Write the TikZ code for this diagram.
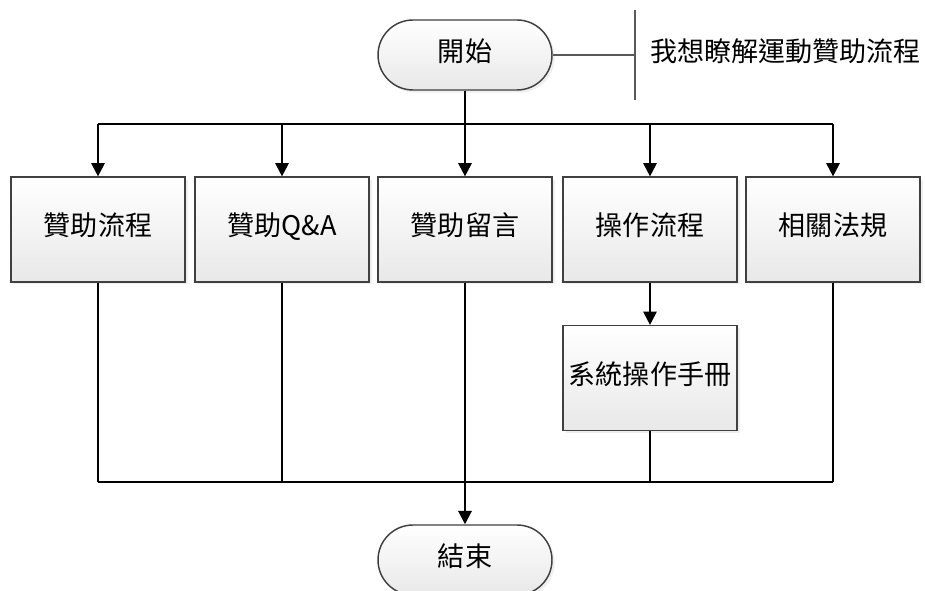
\documentclass[tikz,border=0pt]{standalone}
\usepackage{fontspec}
\setmainfont{Noto Sans CJK TC}
\usetikzlibrary{arrows.meta,shadows,calc}

\begin{document}
\begin{tikzpicture}[
  x=0.75pt, y=-0.75pt,
  every node/.style={font=\fontsize{20.3pt}{24pt}\selectfont,
    text height=1.1em, text depth=0.14em},
  process/.style={rectangle, draw=black!75, line width=1.1pt,
    minimum width=130.5pt, minimum height=78.5pt,
    top color=white, bottom color=black!9,
    drop shadow={shadow xshift=2pt, shadow yshift=-2pt, fill=black!12}},
  terminal/.style={process, minimum height=52.5pt, rounded corners=26.25pt},
  conn/.style={line width=1.5pt, black},
  >={Triangle[length=10pt, width=10pt]}
]
\useasboundingbox (0,0) rectangle (925,591);

% Start and end
\node[terminal] (start) at (465,55) {開始};
\node[terminal] (end) at (465,560) {結束};

% Note at the right
\coordinate (brk) at (635,55);
\draw[black!65, line width=1pt] (start.east) -- (brk);
\draw[black!65, line width=1.3pt] ($(brk)+(0,-45)$) -- ($(brk)+(0,45)$);
\node[anchor=west, inner sep=0pt] (note) at (650,55) {我想瞭解運動贊助流程};

% Main steps
\node[process] (flow) at (98,229.5) {贊助流程};
\node[process] (qa) at (282,229.5) {贊助Q\&A};
\node[process] (msg) at (465,229.5) {贊助留言};
\node[process] (oper) at (650,229.5) {操作流程};
\node[process] (law) at (833,229.5) {相關法規};
\node[process] (manual) at (650,378) {系統操作手冊};

% Split from start
\coordinate (top) at (465,124);
\coordinate (bot) at (465,482);
\draw[conn, ->] (start) -- (msg);
\draw[conn] (flow.north |- top) -- (law.north |- top);
\foreach \n in {flow,qa,oper,law}
  \draw[conn, ->] (\n.north |- top) -- (\n.north);
\draw[conn, ->] (oper) -- (manual);

% Join to end
\foreach \n in {flow,qa,manual,law}
  \draw[conn] (\n.south) -- (\n.south |- bot);
\draw[conn] (flow.south |- bot) -- (law.south |- bot);
\draw[conn, ->] (msg) -- (end);

\end{tikzpicture}
\end{document}
